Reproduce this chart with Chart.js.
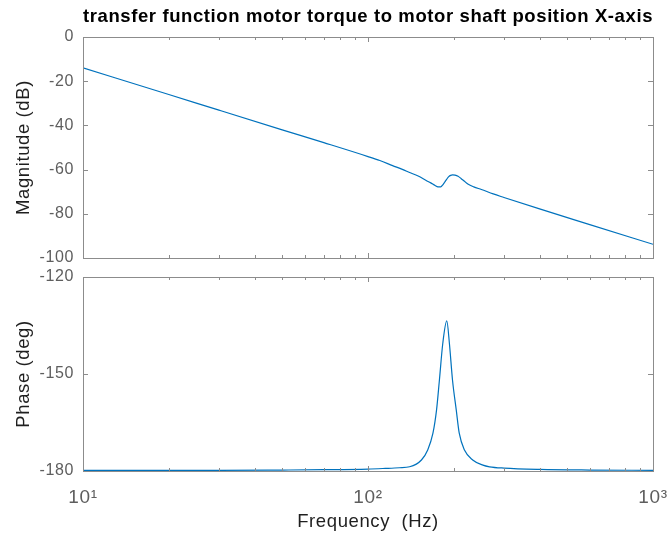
<!DOCTYPE html>
<html>
<head>
<meta charset="utf-8">
<title>Bode plot X-axis</title>
<script src="https://cdn.jsdelivr.net/npm/chart.js@4.4.0/dist/chart.umd.min.js"></script>
<style>
  html, body { margin: 0; padding: 0; background: #fff; }
  #wrap { position: relative; width: 670px; height: 535px; }
  #magCanvas { position: absolute; left: 0; top: 0; }
  #phaseCanvas { position: absolute; left: 0; top: 265px; }
</style>
</head>
<body>
<div id="wrap">
  <canvas id="magCanvas" width="670" height="265"></canvas>
  <canvas id="phaseCanvas" width="670" height="270"></canvas>
</div>
<script>
// magnitude response (dB) vs frequency (Hz)
var magFreq = [10, 20, 30, 50, 70, 100, 110, 122, 132, 140, 150, 160, 166, 172, 176, 180,
               183, 186, 189, 192, 195, 198, 202, 207, 212, 218, 224, 235, 250, 275, 300, 400, 600, 1000];
var magDb   = [-14.0, -26.0, -33.1, -42.0, -47.8, -54.1, -55.9, -58.2, -59.9, -61.3, -62.9, -64.9, -66.0, -67.2, -67.8, -67.8,
               -66.9, -65.6, -64.3, -63.2, -62.6, -62.4, -62.5, -63.0, -64.0, -65.3, -66.5, -67.8, -69.0, -71.0, -72.6, -77.8, -84.9, -93.8];

// phase response (deg) vs frequency (Hz)
var phaseFreq = [10, 20, 30, 50, 70, 100, 115, 129, 140, 154, 162, 169, 174, 178, 183, 189,
                 193, 198, 204, 209, 218, 233, 253, 267, 300, 400, 600, 1000];
var phaseDeg  = [-179.8, -179.8, -179.8, -179.7, -179.6, -179.4, -179.2, -179.0, -178.7, -176.6, -173.5, -168.3, -161.1, -152.0, -140.5, -133.6,
                 -140.5, -152.0, -161.1, -168.3, -173.5, -176.6, -178.2, -178.7, -179.1, -179.5, -179.7, -179.8];

var freqTicks = [10, 100, 1000];
var freqTickLabels = ['10\u00B9', '10\u00B2', '10\u00B3'];
var magTicks = [0, -20, -40, -60, -80, -100];
var phaseTicks = [-120, -150, -180];

var lineBlue = '#0072BD';
var axisGray = '#8c8c8c';
var tickGray = '#5e5e5e';
var labelColor = '#1f1f1f';

Chart.defaults.font.family = "'Liberation Sans', Arial, Helvetica, sans-serif";
Chart.defaults.animation = false;

function points(xs, ys) {
  return xs.map(function (x, i) { return { x: x, y: ys[i] }; });
}

// slightly wider text; canvas resizes wipe the context state, so set it again each pass
var wideText = {
  id: 'wideText',
  beforeUpdate: function (chart) { chart.ctx.letterSpacing = '0.6px'; },
  beforeDraw: function (chart) { chart.ctx.letterSpacing = '0.6px'; }
};

// box around the axes with short inward ticks, like a matlab figure
var frameTicks = {
  id: 'frameTicks',
  afterDatasetsDraw: function (chart) {
    var ctx = chart.ctx, a = chart.chartArea;
    var xs = chart.scales.x, ys = chart.scales.y;
    ctx.save();
    ctx.strokeStyle = axisGray;
    ctx.lineWidth = 1;
    ctx.beginPath();
    var vals = [];
    for (var dec = 10; dec < 1000; dec *= 10) {
      for (var m = 1; m < 10; m++) vals.push([dec * m, m === 1]);
    }
    vals.push([1000, true]);
    vals.forEach(function (v) {
      var px = Math.round(xs.getPixelForValue(v[0])) + 0.5;
      var len = v[1] ? 5 : 3;
      ctx.moveTo(px, a.top); ctx.lineTo(px, a.top + len);
      ctx.moveTo(px, a.bottom); ctx.lineTo(px, a.bottom - len);
    });
    ys.ticks.forEach(function (t) {
      var py = Math.round(ys.getPixelForValue(t.value)) + 0.5;
      ctx.moveTo(a.left, py); ctx.lineTo(a.left + 5, py);
      ctx.moveTo(a.right, py); ctx.lineTo(a.right - 5, py);
    });
    ctx.stroke();
    ctx.strokeRect(a.left + 0.5, a.top + 0.5, a.right - a.left, a.bottom - a.top);
    ctx.restore();
  }
};

// title centred over the plot box
var boxTitle = {
  id: 'boxTitle',
  afterDraw: function (chart, args, opts) {
    var ctx = chart.ctx, a = chart.chartArea;
    ctx.save();
    ctx.font = 'bold 18.5px ' + Chart.defaults.font.family;
    ctx.fillStyle = '#000';
    ctx.textAlign = 'center';
    ctx.textBaseline = 'middle';
    ctx.fillText(opts.text, (a.left + a.right) / 2, 17);
    ctx.restore();
  }
};

function yScale(min, max, ticks, title) {
  return {
    min: min,
    max: max,
    afterBuildTicks: function (s) { s.ticks = ticks.map(function (v) { return { value: v }; }); },
    ticks: { color: tickGray, font: { size: 16 }, padding: 9 },
    grid: { display: false, drawTicks: false },
    border: { display: false },
    title: { display: true, text: title, color: labelColor, font: { size: 18.5 }, padding: { top: 13, bottom: 0 } },
    afterFit: function (s) {
      s.width = 83;
      // labels may hang over the box ends, keep the plot box where it is
      s.paddingTop = 0;
      s.paddingBottom = 0;
    }
  };
}

var lineStyle = {
  borderColor: lineBlue,
  borderWidth: 1.2,
  pointRadius: 0,
  fill: false,
  cubicInterpolationMode: 'monotone'
};

new Chart(document.getElementById('magCanvas'), {
  type: 'line',
  data: { datasets: [Object.assign({ label: 'Magnitude', data: points(magFreq, magDb) }, lineStyle)] },
  options: {
    responsive: false,
    layout: { padding: { top: 37, right: 17, bottom: 7, left: 0 } },
    plugins: {
      legend: { display: false },
      tooltip: { enabled: false },
      boxTitle: { text: 'transfer function motor torque to motor shaft position X-axis' }
    },
    scales: {
      x: { type: 'logarithmic', min: 10, max: 1000, display: false },
      y: yScale(-100, 0, magTicks, 'Magnitude (dB)')
    }
  },
  plugins: [wideText, frameTicks, boxTitle]
});

new Chart(document.getElementById('phaseCanvas'), {
  type: 'line',
  data: { datasets: [Object.assign({ label: 'Phase', data: points(phaseFreq, phaseDeg) }, lineStyle)] },
  options: {
    responsive: false,
    layout: { padding: { top: 12, right: 17, bottom: 0, left: 0 } },
    plugins: { legend: { display: false }, tooltip: { enabled: false } },
    scales: {
      x: {
        type: 'logarithmic',
        min: 10,
        max: 1000,
        afterBuildTicks: function (s) { s.ticks = freqTicks.map(function (v) { return { value: v }; }); },
        ticks: {
          color: tickGray,
          font: { size: 19 },
          padding: 15,
          autoSkip: false,
          maxRotation: 0,
          callback: function (v) { return freqTickLabels[freqTicks.indexOf(v)]; }
        },
        grid: { display: false, drawTicks: false },
        border: { display: false },
        title: { display: true, text: 'Frequency  (Hz)', color: labelColor, font: { size: 18.5 }, padding: { top: 0, bottom: 2 } },
        afterFit: function (s) {
          s.height = 64;
          s.paddingLeft = 0;
          s.paddingRight = 0;
        }
      },
      y: yScale(-180, -120, phaseTicks, 'Phase (deg)')
    }
  },
  plugins: [wideText, frameTicks]
});
</script>
</body>
</html>
